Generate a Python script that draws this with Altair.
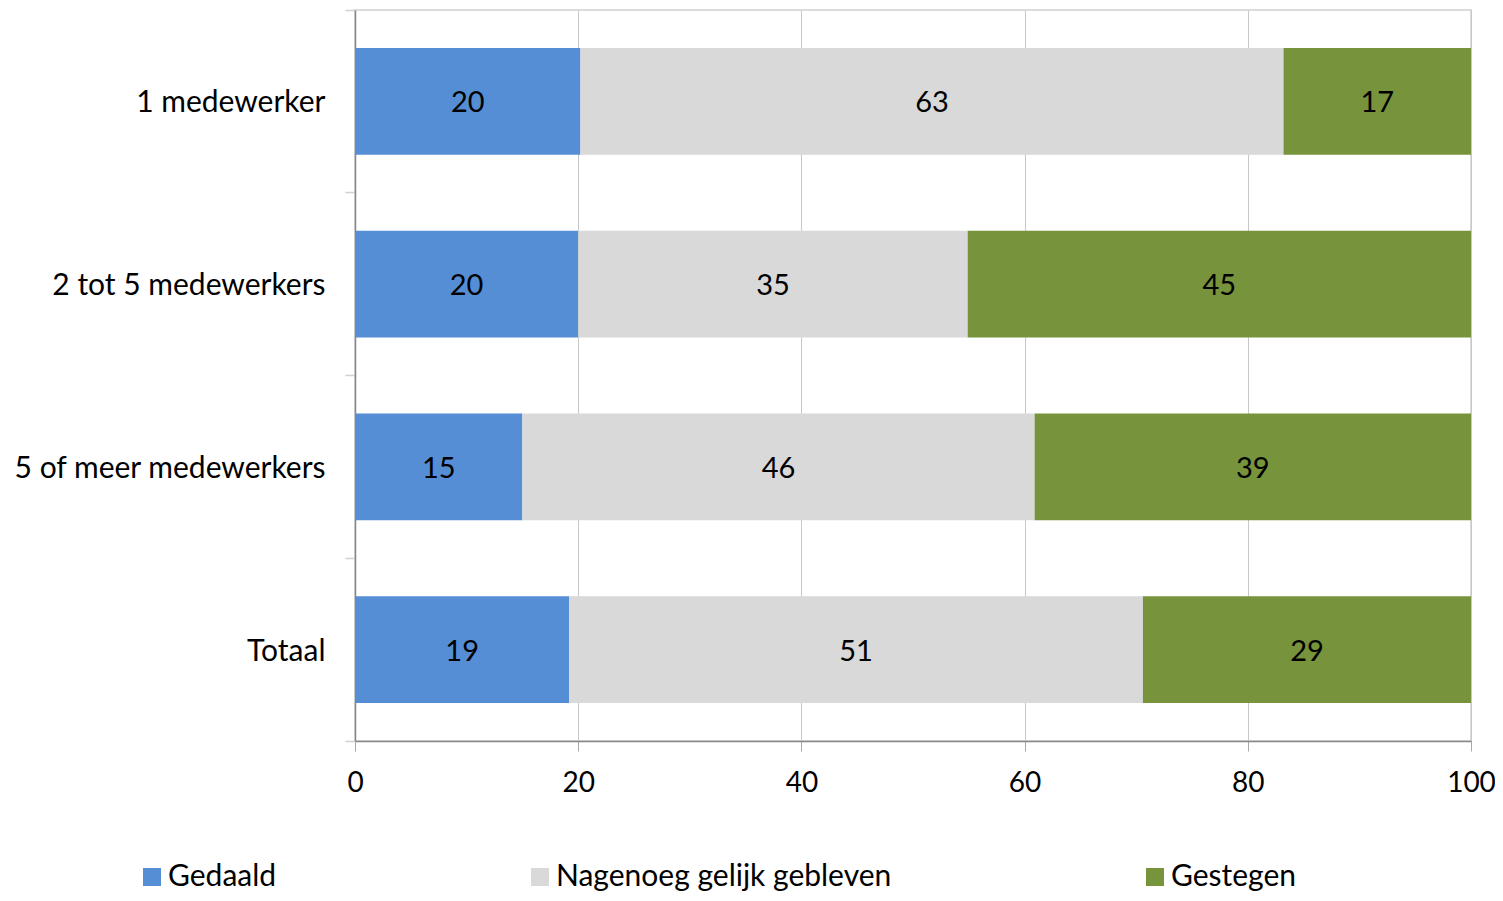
import altair as alt
import pandas as pd

categories = ["1 medewerker", "2 tot 5 medewerkers", "5 of meer medewerkers", "Totaal"]
series = ["Gedaald", "Nagenoeg gelijk gebleven", "Gestegen"]
colors = ["#558ED5", "#D9D9D9", "#77933C"]

gedaald = [20.2, 20.0, 15.0, 19.2]
nagenoeg = [63.0, 34.9, 45.9, 51.4]
gestegen = [16.8, 45.1, 39.1, 29.4]

rows = []
for i, c in enumerate(categories):
    for j, (s, vals) in enumerate(zip(series, [gedaald, nagenoeg, gestegen])):
        rows.append({"cat": c, "serie": s, "value": vals[i], "idx": j})
df = pd.DataFrame(rows)

FONT = "Lato"

base = alt.Chart(df)

bars = base.mark_bar(height={"band": 0.585}).encode(
    x=alt.X(
        "value:Q",
        stack="zero",
        scale=alt.Scale(domain=[0, 100], nice=False),
        axis=alt.Axis(
            values=[0, 20, 40, 60, 80, 100],
            grid=True,
            gridColor="#c8c8c8",
            gridWidth=1,
            domainColor="#888888",
            domainWidth=1.5,
            tickColor="#aaaaaa",
            tickSize=10,
            labelFontSize=28,
            labelPadding=18,
            labelColor="#000000",
            labelFont=FONT,
            labelFlush=False,
            title=None,
        ),
    ),
    y=alt.Y(
        "cat:N",
        sort=categories,
        scale=alt.Scale(paddingInner=0, paddingOuter=0),
        axis=alt.Axis(
            bandPosition=1,
            tickExtra=True,
            ticks=True,
            tickSize=10,
            tickColor="#d0d0d0",
            tickWidth=1.5,
            domainColor="#888888",
            domainWidth=1.5,
            labelFontSize=30,
            labelPadding=20,
            labelOffset=2,
            labelColor="#000000",
            labelFont=FONT,
            labelLimit=400,
            title=None,
            grid=False,
        ),
    ),
    color=alt.Color(
        "serie:N",
        scale=alt.Scale(domain=series, range=colors),
        legend=alt.Legend(
            title=None,
            orient="none",
            legendX=-218,
            legendY=852,
            direction="horizontal",
            columns=3,
            columnPadding=248,
            symbolType="square",
            symbolSize=324,
            symbolStrokeWidth=0,
            labelFontSize=30,
            labelFont=FONT,
            labelColor="#000000",
            labelOffset=1,
            labelLimit=600,
        ),
    ),
    order=alt.Order("idx:Q"),
)

labels = base.transform_stack(
    stack="value",
    groupby=["cat"],
    as_=["v0", "v1"],
    sort=[alt.SortField("idx", order="ascending")],
).transform_calculate(
    mid="(datum.v0 + datum.v1) / 2"
).mark_text(fontSize=29, font=FONT, color="#000000", baseline="middle", dy=2).encode(
    x=alt.X("mid:Q"),
    y=alt.Y("cat:N", sort=categories),
    text=alt.Text("value:Q", format=".0f"),
)

chart = alt.layer(bars, labels).properties(
    width=1116,
    height=731,
    autosize=alt.AutoSizeParams(type="none"),
    padding={"left": 347, "top": 2, "right": 24, "bottom": 152},
).configure_view(
    stroke="#d0d0d0", strokeWidth=1.5
)

chart.save("out.html", embed_options={"renderer": "svg", "actions": False})
